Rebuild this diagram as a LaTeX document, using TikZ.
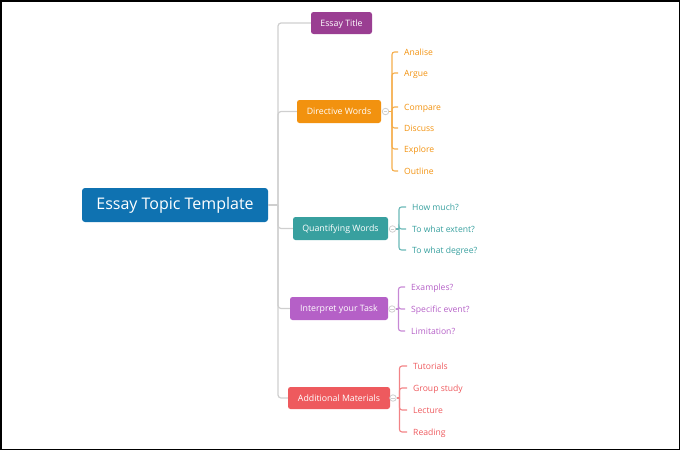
\documentclass[tikz,border=0pt]{standalone}
\usepackage{fontspec}
\setmainfont{Open Sans}
\definecolor{rootc}{HTML}{0F72B1}
\definecolor{titlec}{HTML}{9A3E92}
\definecolor{dirc}{HTML}{F2920F}
\definecolor{quac}{HTML}{38A09F}
\definecolor{intc}{HTML}{B560C7}
\definecolor{addc}{HTML}{EE5A5E}
\definecolor{trunkc}{HTML}{CFCFCF}
\tikzset{
  rootbox/.style={fill=rootc,text=white,rounded corners=3pt,minimum width=186pt,minimum height=34pt,inner sep=0pt,text height=12pt,text depth=3pt,font=\fontsize{16}{18}\selectfont},
  branchbox/.style={fill=#1,text=white,rounded corners=2.5pt,minimum height=23pt,inner sep=0pt,text height=7.6pt,text depth=1.4pt,font=\fontsize{8.8}{10}\selectfont},
  leaf/.style={text=#1,anchor=west,inner xsep=6pt,inner ysep=0pt,text height=7.4pt,text depth=1.4pt,font=\fontsize{8.6}{10}\selectfont},
  trunk/.style={draw=trunkc,line width=1.2pt,rounded corners=3pt},
  sub/.style={draw=#1!75,line width=1.1pt,rounded corners=2.5pt},
  knob/.style={circle,draw=trunkc,fill=white,line width=0.8pt,minimum size=6.5pt,inner sep=0pt,path picture={\draw[trunkc,line width=0.7pt] ([xshift=-1.8pt]path picture bounding box.center) -- ([xshift=1.8pt]path picture bounding box.center);}},
}
\begin{document}
\begin{tikzpicture}[x=1pt,y=-1pt]
\useasboundingbox (0,0) rectangle (680,450);
\draw[line width=1.5pt] (0.75,0.75) rectangle (679.25,449.25);

\node[rootbox] (root) at (175,205) {Essay Topic Template};
\node[branchbox=titlec,minimum width=61pt,minimum height=22pt] (title) at (341.5,23) {Essay Title};
\node[branchbox=dirc,minimum width=84pt] (dir) at (339,111.5) {Directive Words};
\node[branchbox=quac,minimum width=95pt] (qua) at (340.5,228.5) {Quantifying Words};
\node[branchbox=intc,minimum width=98pt] (int) at (339,308.5) {Interpret your Task};
\node[branchbox=addc,minimum width=102pt,minimum height=22pt] (add) at (339,398) {Additional Materials};

\coordinate (hub) at (278,205);
\draw[trunk] (root.east) -- (hub);
\draw[trunk] (hub) |- (title.west);
\draw[trunk] (hub) |- (dir.west);
\draw[trunk] (hub) |- (qua.west);
\draw[trunk] (hub) |- (int.west);
\draw[trunk] (hub) |- (add.west);

% Directive Words
\node[knob] (kd) at (385.5,111.5) {};
\coordinate (sd) at (392,111.5);
\node[leaf=dirc] (d1) at (398,52) {Analise};
\node[leaf=dirc] (d2) at (398,73) {Argue};
\node[leaf=dirc] (d3) at (398,107) {Compare};
\node[leaf=dirc] (d4) at (398,128) {Discuss};
\node[leaf=dirc] (d5) at (398,149) {Explore};
\node[leaf=dirc] (d6) at (398,171) {Outline};
\draw[sub=dirc] (kd.east) -- (sd);
\foreach \l in {d1,d2,d3,d4,d5,d6} \draw[sub=dirc] (sd) |- (\l.west);

% Quantifying Words
\node[knob] (kq) at (392.5,229) {};
\coordinate (sq) at (399,229);
\node[leaf=quac] (q1) at (406,207) {How much?};
\node[leaf=quac] (q2) at (406,229) {To what extent?};
\node[leaf=quac] (q3) at (406,250) {To what degree?};
\draw[sub=quac] (kq.east) -- (sq);
\foreach \l in {q1,q2,q3} \draw[sub=quac] (sq) |- (\l.west);

% Interpret your Task
\node[knob] (ki) at (392,309) {};
\coordinate (si) at (398.5,309);
\node[leaf=intc] (i1) at (405,287) {Examples?};
\node[leaf=intc] (i2) at (405,309) {Specific event?};
\node[leaf=intc] (i3) at (405,331) {Limitation?};
\draw[sub=intc] (ki.east) -- (si);
\foreach \l in {i1,i2,i3} \draw[sub=intc] (si) |- (\l.west);

% Additional Materials
\node[knob] (ka) at (393,398) {};
\coordinate (sa) at (399.5,398);
\node[leaf=addc] (a1) at (407,366) {Tutorials};
\node[leaf=addc] (a2) at (407,388) {Group study};
\node[leaf=addc] (a3) at (407,410) {Lecture};
\node[leaf=addc] (a4) at (407,432) {Reading};
\draw[sub=addc] (ka.east) -- (sa);
\foreach \l in {a1,a2,a3,a4} \draw[sub=addc] (sa) |- (\l.west);
\end{tikzpicture}
\end{document}
